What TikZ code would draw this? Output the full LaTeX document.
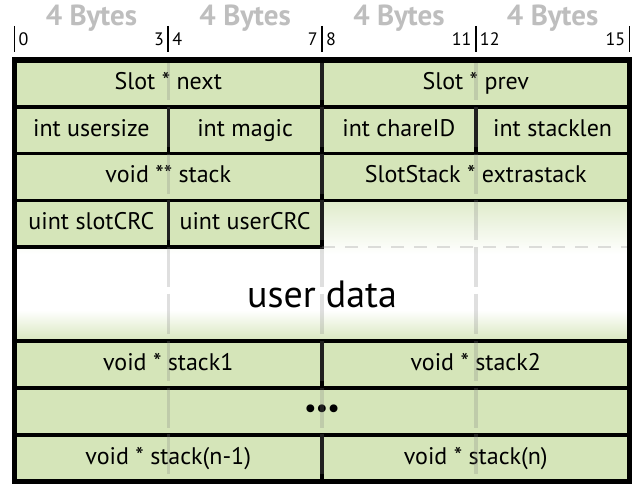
\documentclass[tikz,border=0pt]{standalone}
\usepackage{fontspec}
\setmainfont{PT Sans}
\usepackage{tikz}
\usetikzlibrary{positioning}
\usetikzlibrary{backgrounds}

\definecolor{slotgreen}{RGB}{213,229,185}
\definecolor{bytegray}{RGB}{190,190,190}
\pgfdeclareverticalshading{userfade}{100bp}{color(0bp)=(slotgreen!95!white);
  color(25bp)=(slotgreen!95!white); color(36bp)=(white); color(56bp)=(white);
  color(75bp)=(slotgreen!75!white); color(100bp)=(slotgreen!75!white)}

\begin{document}
\begin{tikzpicture}[x=1pt,y=1pt,
    cell/.style={draw=black,line width=3.5pt,fill=slotgreen,inner sep=0pt,outer sep=0pt,
      minimum height=46.8pt,text height=17pt,text depth=5pt,font=\fontsize{24}{28}\selectfont},
    quarter/.style={cell,minimum width=153.75pt},
    half/.style={cell,minimum width=307.5pt},
    bytes/.style={font=\fontsize{29}{32}\selectfont\bfseries,text=bytegray,inner sep=0pt},
    offset/.style={font=\fontsize{18}{20}\selectfont,inner sep=0pt},
    guide/.style={draw=gray,line width=3.5pt,opacity=0.25,dash pattern=on 40pt off 6.8pt}]
  \useasboundingbox (0,0) rectangle (633,-484);
  % byte offsets
  \foreach \i/\x in {0/91.4,1/245.1,2/398.9,3/552.6}
    \node[bytes] (bytes\i) at (\x,-18) {4 Bytes};
  \foreach \x in {14.5,168.25,322,475.75,629.5}
    \draw[line width=1.6pt] (\x,-26) -- (\x,-52);
  \foreach \n/\x in {0/14.5,4/168.25,8/322,12/475.75}
    \node[offset,anchor=base west] (from\n) at (\x+4,-46) {\n};
  \foreach \n/\x in {3/168.25,7/322,11/475.75,15/629.5}
    \node[offset,anchor=base east] (to\n) at (\x-4,-46) {\n};
  % slot header
  \node[half,anchor=north west] (next) at (14.5,-60) {Slot * next};
  \node[half] (prev) [right=0pt of next] {Slot * prev};
  \node[quarter,anchor=north west] (usersize) at (next.south west) {int usersize};
  \node[quarter] (magic) [right=0pt of usersize] {int magic};
  \node[quarter] (chareid) [right=0pt of magic] {int chareID};
  \node[quarter] (stacklen) [right=0pt of chareid] {int stacklen};
  \node[half,anchor=north west] (stack) at (usersize.south west) {void ** stack};
  \node[half] (extrastack) [right=0pt of stack] {SlotStack * extrastack};
  \node[quarter,anchor=north west] (slotcrc) at (stack.south west) {uint slotCRC};
  \node[quarter] (usercrc) [right=0pt of slotcrc] {uint userCRC};
  % user data
  \node[font=\fontsize{38}{42}\selectfont,inner sep=0pt,minimum height=93.6pt] (userdata)
    [below=0pt of usercrc.south east] {user data};
  % stack pointers
  \node[half,anchor=north east] (stackone) at (userdata.south) {void * stack1};
  \node[half] (stacktwo) [right=0pt of stackone] {void * stack2};
  \node[cell,minimum width=615pt,anchor=north west,font=\fontsize{28}{30}\selectfont] (dots)
    at (stackone.south west) {\textbullet\kern-1pt\textbullet\kern-1pt\textbullet};
  \node[half,anchor=north west] (stackprev) at (dots.south west) {void * stack(n-1)};
  \node[half] (stackn) [right=0pt of stackprev] {void * stack(n)};
  \begin{scope}[on background layer]
    \shade[shading=userfade] (usercrc.north east) -- (extrastack.south east)
      -- (stacktwo.north east) -- (stackone.north west) -- (slotcrc.south west)
      -- (usercrc.south east) -- cycle;
  \end{scope}
  % guides
  \foreach \c in {usersize,magic,chareid}
    \draw[guide] (\c.east |- next.north) -- (\c.east |- stackn.south);
  \draw[guide,line width=2pt,dash pattern=on 13pt off 10pt]
    (usercrc.south east) -- (usercrc.south east -| stacklen.east);
  \draw[line width=5.5pt] (next.north west) rectangle (stackn.south east);
\end{tikzpicture}
\end{document}
